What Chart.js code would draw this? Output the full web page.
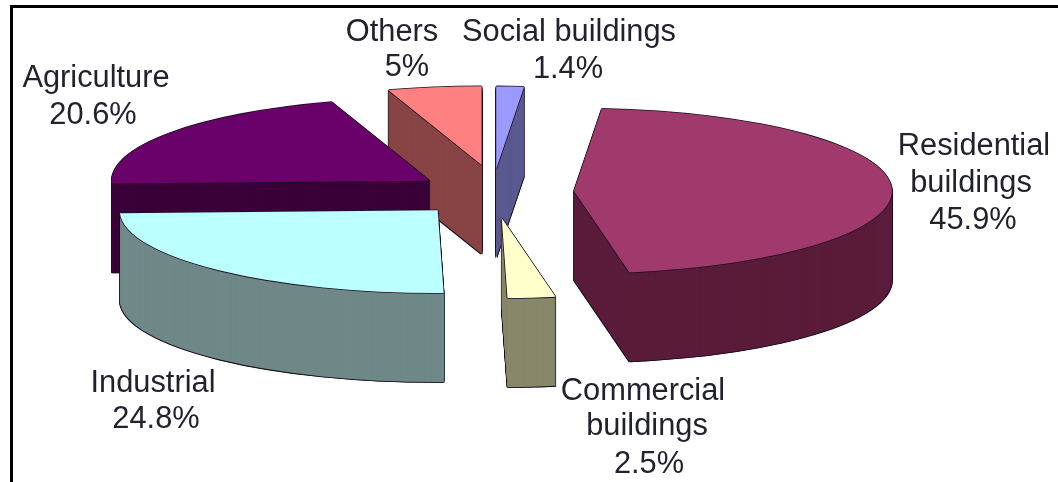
<!DOCTYPE html>
<html>
<head>
<meta charset="utf-8">
<title>Energy use by sector</title>
<script src="https://cdn.jsdelivr.net/npm/chart.js@4"></script>
<style>
  html, body { margin: 0; background: #fff; }
  canvas { display: block; filter: blur(0.5px); }
</style>
</head>
<body>
<canvas id="myPieChart" width="1058" height="482"></canvas>
<script>
// Data, clockwise from the top of the pie
const categories = ['Social buildings', 'Residential buildings', 'Commercial buildings', 'Industrial', 'Agriculture', 'Others'];
const shares = [1.4, 45.9, 2.5, 24.8, 20.6, 5];
const labelLines = [['Social buildings'], ['Residential', 'buildings'], ['Commercial', 'buildings'], ['Industrial'], ['Agriculture'], ['Others']];

// Styles
const topColors = ['#9999ff', '#a03a6c', '#ffffcc', '#bbffff', '#6a006a', '#ff8080'];
const wallColors = ['#5a5a90', '#5a1c3a', '#87876a', '#6f8888', '#3a0039', '#884444'];
const explode = [96, 83, 100, 76, 76, 105];
const nudge = [[2, 2], [1, 0], [2, 0], [0, 4], [2, 0], [8, 0]];
const sliceScale = [1, 1, 0.97, 1, 1, 0.953];
const labelAnchors = [
    [[569, 41], [568, 78]],
    [[974, 155], [971, 192], [973, 229]],
    [[643, 400], [647, 435], [649, 473]],
    [[153, 392], [156, 428]],
    [[96, 87], [93, 124]],
    [[392, 41], [407, 76]]
];
const drawOrder = [5, 4, 0, 1, 2, 3]; // back to front
const squash = 0.26;
const depth = 89;
const edgeColor = '#1a1020';

function paintArc(ctx, arc, color, dx, dy, lift) {
    const i = arc.$index;
    const mid = (arc.startAngle + arc.endAngle) / 2;
    const saved = arc.options;
    arc.options = Object.assign(Object.create(saved), { backgroundColor: color, borderWidth: 0 });
    ctx.save();
    ctx.translate(arc.x + nudge[i][0] + dx, arc.y + nudge[i][1] + lift + dy);
    ctx.scale(1, squash);
    ctx.translate(Math.cos(mid) * explode[i], Math.sin(mid) * explode[i]);
    ctx.scale(sliceScale[i], sliceScale[i]);
    ctx.translate(-arc.x, -arc.y);
    arc.draw(ctx);
    ctx.restore();
    arc.options = saved;
}

// Tilted 3D pie: each slice is drawn by Chart.js itself, squashed and stacked
const pie3d = {
    id: 'pie3d',
    beforeDraw(chart) {
        const ctx = chart.ctx;
        ctx.save();
        ctx.fillStyle = '#000';
        ctx.fillRect(10, 5, 1048, 3);
        ctx.fillRect(10, 5, 3, 477);
        ctx.restore();
    },
    beforeDatasetsDraw(chart) {
        const ctx = chart.ctx;
        const arcs = chart.getDatasetMeta(0).data;
        arcs.forEach((arc, i) => { arc.$index = i; });
        drawOrder.forEach(i => {
            const arc = arcs[i];
            // thin outline round the wall
            paintArc(ctx, arc, edgeColor, -0.8, 0, depth + 0.8);
            paintArc(ctx, arc, edgeColor, 0.8, 0, depth + 0.8);
            for (let k = depth; k > 0; k--) {
                paintArc(ctx, arc, edgeColor, -0.8, 0, k);
                paintArc(ctx, arc, edgeColor, 0.8, 0, k);
            }
            for (let k = depth; k > 0; k--) {
                paintArc(ctx, arc, wallColors[i], 0, 0, k);
            }
            // top face with its outline
            paintArc(ctx, arc, edgeColor, -0.8, 0, 0);
            paintArc(ctx, arc, edgeColor, 0.8, 0, 0);
            paintArc(ctx, arc, edgeColor, 0, -0.8, 0);
            paintArc(ctx, arc, edgeColor, 0, 0.8, 0);
            paintArc(ctx, arc, topColors[i], 0, 0, 0);
        });
        return false;
    },
    afterDraw(chart) {
        const ctx = chart.ctx;
        ctx.save();
        ctx.fillStyle = '#22222e';
        ctx.font = '30.8px "Liberation Sans", Arial, sans-serif';
        ctx.textAlign = 'center';
        ctx.textBaseline = 'alphabetic';
        categories.forEach((name, i) => {
            const lines = labelLines[i].concat(shares[i] + '%');
            lines.forEach((line, n) => ctx.fillText(line, labelAnchors[i][n][0], labelAnchors[i][n][1]));
        });
        ctx.restore();
    }
};

const ctx = document.getElementById('myPieChart').getContext('2d');

const myPieChart = new Chart(ctx, {
    type: 'pie',
    data: {
        labels: categories,
        datasets: [{
            data: shares,
            backgroundColor: topColors,
            borderWidth: 0
        }]
    },
    options: {
        responsive: false,
        animation: false,
        radius: 318,
        layout: { padding: { right: 78, bottom: 98 } },
        plugins: {
            legend: { display: false },
            tooltip: { enabled: false }
        }
    },
    plugins: [pie3d]
});
</script>
</body>
</html>
